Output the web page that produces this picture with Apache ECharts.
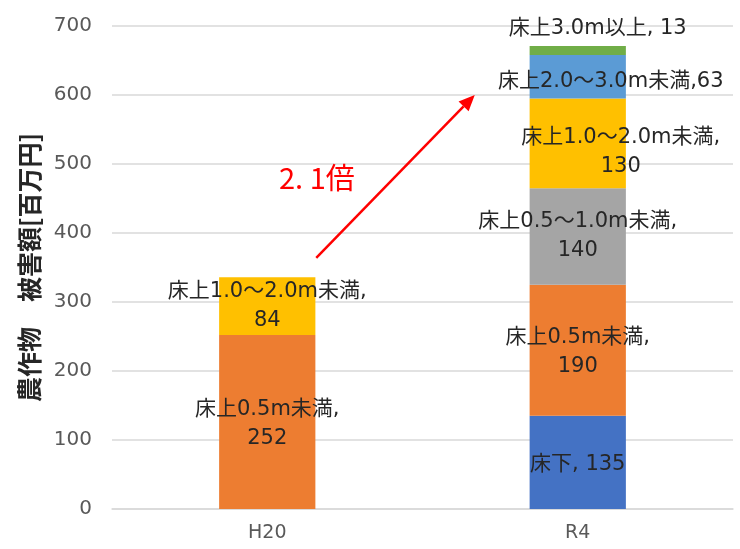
<!DOCTYPE html>
<html>
<head>
<meta charset="utf-8">
<script src="https://cdn.jsdelivr.net/npm/echarts@6/dist/echarts.min.js"></script>
<style>
  html, body { margin: 0; padding: 0; background: #fff; }
  #main { width: 740px; height: 549px; }
</style>
</head>
<body>
<div id="main"></div>
<script>
  // data
  var categories = ['H20', 'R4']
  var yukashita = [null, 135]       // 床下
  var under05 = [252, 190]          // 床上0.5m未満
  var from05to10 = [null, 140]      // 床上0.5～1.0m未満
  var from10to20 = [84, 130]        // 床上1.0～2.0m未満
  var from20to30 = [null, 63]       // 床上2.0～3.0m未満
  var over30 = [null, 13]           // 床上3.0m以上
  var yTicks = [0, 700, 100]        // min, max, interval

  var font = '"DejaVu Sans", "Noto Sans CJK JP", sans-serif'
  var cjkFont = '"Noto Sans CJK JP", "Noto Sans", sans-serif'
  var labelBase = {
    show: true,
    position: 'inside',
    color: '#262626',
    fontSize: 21,
    lineHeight: 29,
    fontFamily: font
  }

  function makeSeries(name, data, color, sep, extra) {
    return {
      name: name,
      type: 'bar',
      stack: 'total',
      barWidth: '31%',
      data: data,
      itemStyle: { color: color },
      label: Object.assign({}, labelBase, {
        formatter: function (p) {
          return name + sep + p.value
        }
      }, extra || {})
    }
  }

  var chart = echarts.init(document.getElementById('main'))
  chart.setOption({
    animation: false,
    grid: { left: 112, right: 7, top: 26, bottom: 40 },
    xAxis: {
      type: 'category',
      data: categories,
      axisTick: { show: false },
      axisLine: { lineStyle: { color: '#d9d9d9', width: 1.5 } },
      axisLabel: { color: '#595959', fontSize: 19, margin: 15, fontFamily: font }
    },
    yAxis: {
      type: 'value',
      min: yTicks[0],
      max: yTicks[1],
      interval: yTicks[2],
      name: '農作物　被害額[百万円]',
      nameLocation: 'middle',
      nameGap: 70,
      nameTextStyle: { color: '#262626', fontSize: 25, fontWeight: 'bold', fontFamily: cjkFont },
      axisLine: { show: false },
      axisTick: { show: false },
      axisLabel: { color: '#595959', fontSize: 20, margin: 20, fontFamily: font },
      splitLine: { lineStyle: { color: '#d9d9d9', width: 1.5 } }
    },
    series: [
      makeSeries('床下', yukashita, '#4472C4', ', ', { offset: [0, 2] }),
      makeSeries('床上0.5m未満', under05, '#ED7D31', ',\n', { offset: [0, 2] }),
      makeSeries('床上0.5～1.0m未満', from05to10, '#A5A5A5', ',\n'),
      {
        name: '床上1.0～2.0m未満',
        type: 'bar',
        stack: 'total',
        barWidth: '31%',
        data: [
          from10to20[0],
          { value: from10to20[1], label: { offset: [43, 9] } }
        ],
        itemStyle: { color: '#FFC000' },
        label: Object.assign({}, labelBase, {
          formatter: function (p) { return '床上1.0～2.0m未満,\n' + p.value }
        })
      },
      makeSeries('床上2.0～3.0m未満', from20to30, '#5B9BD5', ',', { offset: [33, 5] }),
      makeSeries('床上3.0m以上', over30, '#70AD47', ', ', { position: 'top', distance: 3, offset: [20, 0] })
    ]
  })

  // 倍率の矢印（注記）
  var p0 = chart.convertToPixel({ xAxisIndex: 0, yAxisIndex: 0 }, ['H20', 364])
  var p1 = chart.convertToPixel({ xAxisIndex: 0, yAxisIndex: 0 }, ['R4', 600])
  var x0 = p0[0] + 49
  var x1 = p1[0] - 103
  var ang = Math.atan2(p1[1] - p0[1], x1 - x0)
  var head = 16
  var half = 7
  var bx = x1 - head * Math.cos(ang)
  var by = p1[1] - head * Math.sin(ang)
  chart.setOption({
    graphic: [
      {
        type: 'line',
        shape: { x1: x0, y1: p0[1], x2: bx, y2: by },
        style: { stroke: '#FF0000', lineWidth: 2.5 }
      },
      {
        type: 'polygon',
        shape: {
          points: [
            [x1, p1[1]],
            [bx - half * Math.sin(ang), by + half * Math.cos(ang)],
            [bx + half * Math.sin(ang), by - half * Math.cos(ang)]
          ]
        },
        style: { fill: '#FF0000' }
      },
      {
        type: 'text',
        left: 279,
        top: 163,
        style: { text: '2. 1倍', fill: '#FF0000', fontSize: 29, fontFamily: cjkFont }
      }
    ]
  })
</script>
</body>
</html>
